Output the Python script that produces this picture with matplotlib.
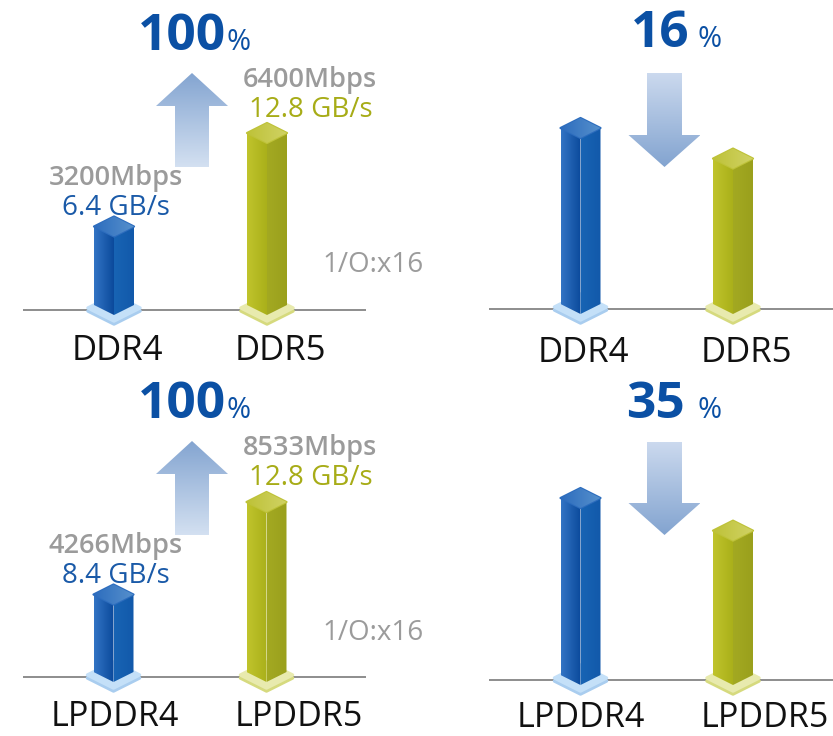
import numpy as np
import matplotlib
matplotlib.use("Agg")
import matplotlib.pyplot as plt
from matplotlib.patches import Polygon
from matplotlib.colors import to_rgb

# ---------------- data ----------------
categories_ddr = ["DDR4", "DDR5"]
categories_lp = ["LPDDR4", "LPDDR5"]
ddr_rate_mbps = [3200, 6400]
lpddr_rate_mbps = [4266, 8533]
ddr_bw_labels = ["6.4 GB/s", "12.8 GB/s"]
lpddr_bw_labels = ["8.4 GB/s", "12.8 GB/s"]
ddr_power_rel = [100, 84]      # relative bar heights as drawn
lpddr_power_rel = [100, 83]
bw_gain_labels = ["100", "100"]
power_cut_labels = ["16", "35"]
io_label = "1/O:x16"

W, H = 833, 736
fig = plt.figure(figsize=(W / 100, H / 100), dpi=100)
FONT = "Open Sans"

BLUE = dict(left=("#3274c4", "#0b4a9c"), right=("#1864b4", "#1259aa"),
            top=("#2d6dbe", "#5690cc"), plate_top="#c4e0f8", plate_edge="#a9cdef")
OLIVE = dict(left=("#c0c42c", "#aab01a"), right=("#a3a922", "#9aa01c"),
             top=("#bec238", "#d0d264"), plate_top="#e8eaae", plate_edge="#d6da7e")


def grad_fill(ax, verts, c0, c1, horizontal=True, zorder=2, upper=False):
    verts = np.asarray(verts)
    xmin, xmax = verts[:, 0].min(), verts[:, 0].max()
    ymin, ymax = verts[:, 1].min(), verts[:, 1].max()
    n = 64
    t = np.linspace(0, 1, n)[:, None]
    cols = (1 - t) * np.array(to_rgb(c0)) + t * np.array(to_rgb(c1))
    img = cols[None, :, :] if horizontal else cols[:, None, :]
    poly = Polygon(verts, closed=True, facecolor="none", edgecolor="none", zorder=zorder)
    ax.add_patch(poly)
    if upper:
        im = ax.imshow(img, extent=(xmin, xmax, ymax, ymin), origin="upper",
                       aspect="auto", zorder=zorder, interpolation="bilinear")
    else:
        im = ax.imshow(img, extent=(xmin, xmax, ymin, ymax), origin="lower",
                       aspect="auto", zorder=zorder, interpolation="bilinear")
    im.set_clip_path(poly)
    return im


def panel(rect, baseline, centers, max_px, values, style_list, vmax):
    x0, ytop, x1, ybot = rect
    ax = fig.add_axes([x0 / W, 1 - ybot / H, (x1 - x0) / W, (ybot - ytop) / H])
    dx = centers[1] - centers[0]
    s = max_px / vmax           # px per data unit
    xlim = ((x0 - centers[0]) / dx, (x1 - centers[0]) / dx)
    ylim = (-(ybot - baseline) / s, (baseline - ytop) / s)
    sx, sy = 1 / dx, 1 / s
    ax.axhline(0, color="#858585", lw=1.3, zorder=1)
    for i, (v, st) in enumerate(zip(values, style_list)):
        cx = i
        # base plate
        pc = 2 * sy
        pw, ph = 26 * sx, 13 * sy
        edge = [(cx - pw, pc - 3 * sy), (cx, pc - ph - 3 * sy), (cx + pw, pc - 3 * sy), (cx, pc + ph - 3 * sy)]
        ax.add_patch(Polygon(edge, closed=True, fc=st["plate_edge"], ec=st["plate_edge"],
                             lw=2.5, joinstyle="round", zorder=2))
        top_pl = [(cx - pw, pc), (cx, pc - ph), (cx + pw, pc), (cx, pc + ph)]
        ax.add_patch(Polygon(top_pl, closed=True, fc=st["plate_top"], ec=st["plate_top"],
                             lw=2.5, joinstyle="round", zorder=2))
        w = 20 * sx
        dh = 10 * sy
        left = [(cx - w, v - dh), (cx, v - 2 * dh), (cx, -5 * sy), (cx - w, 5 * sy)]
        right = [(cx, v - 2 * dh), (cx + w, v - dh), (cx + w, 5 * sy), (cx, -5 * sy)]
        top = [(cx, v), (cx + w, v - dh), (cx, v - 2 * dh), (cx - w, v - dh)]
        grad_fill(ax, left, st["left"][0], st["left"][1], zorder=3)
        grad_fill(ax, right, st["right"][0], st["right"][1], zorder=3)
        ax.add_patch(Polygon(top, closed=True, fc="none", ec=st["top"][0], lw=1.6,
                             joinstyle="round", zorder=3.5))
        grad_fill(ax, top, st["top"][0], st["top"][1], zorder=4)
    ax.set_xlim(*xlim)
    ax.set_ylim(*ylim)
    ax.axis("off")
    return ax


styles = [BLUE, OLIVE]
panel((23, 0, 366, 345), 310, (114, 267), 187, ddr_rate_mbps, styles, max(ddr_rate_mbps))
panel((489, 0, 833, 345), 309, (580.5, 733), 191, ddr_power_rel, styles, max(ddr_power_rel))
panel((23, 370, 366, 712), 677, (113.5, 266.5), 185, lpddr_rate_mbps, styles, max(lpddr_rate_mbps))
panel((489, 370, 833, 715), 680, (580.5, 733), 192, lpddr_power_rel, styles, max(lpddr_power_rel))

# ---------------- overlay (text & arrows) ----------------
ov = fig.add_axes([0, 0, 1, 1], zorder=10)
ov.set_xlim(0, W)
ov.set_ylim(H, 0)
ov.axis("off")

DBLUE = "#0b50a4"
MBLUE = "#1a5aa8"
GREY = "#9b9b9b"
OLIVE_T = "#a7ac17"


def txt(x, y, s, size, color, weight="normal", ha="center"):
    ov.text(x, y, s, fontsize=size, color=color, fontweight=weight, ha=ha,
            va="baseline", family=FONT)


def up_arrow(cx, ytip, yhead, ybot):
    hw, sw = 36, 17
    pts = [(cx, ytip), (cx + hw, yhead), (cx + sw, yhead), (cx + sw, ybot),
           (cx - sw, ybot), (cx - sw, yhead), (cx - hw, yhead)]
    grad_fill(ov, pts, "#84a5d1", "#d3e0f1", horizontal=False, zorder=5, upper=True)


def down_arrow(cx, ytop, yhead, ytip):
    hw, sw = 36, 17.5
    pts = [(cx - sw, ytop), (cx + sw, ytop), (cx + sw, yhead), (cx + hw, yhead),
           (cx, ytip), (cx - hw, yhead), (cx - sw, yhead)]
    grad_fill(ov, pts, "#cbd9ee", "#83a4d0", horizontal=False, zorder=5, upper=True)


for row, (cats, rates, bws, gain, cut, dy, lab_y, lab_y_r, lab_x, lab_x_r, lsize) in enumerate([
        (categories_ddr, ddr_rate_mbps, ddr_bw_labels, bw_gain_labels[0], power_cut_labels[0],
         0, 360, 362, (117.5, 280), (583.5, 746), 25),
        (categories_lp, lpddr_rate_mbps, lpddr_bw_labels, bw_gain_labels[1], power_cut_labels[1],
         368, 726, 727, (115, 299), (581, 765), 24.5)]):
    # left panel
    txt(226, 50 + dy, gain, 37, DBLUE, "bold", ha="right")
    txt(227, 50 + dy, "%", 21, DBLUE, ha="left")
    up_arrow(192, 73 + dy, 106 + dy, 167 + dy)
    txt(116, 185 + dy, f"{rates[0]}Mbps", 19.5, GREY, "semibold")
    txt(116, 215 + dy, bws[0], 20, MBLUE)
    txt(310, 87 + dy, f"{rates[1]}Mbps", 19.5, GREY, "semibold")
    txt(310.5, 117 + dy, bws[1], 20, OLIVE_T)
    txt(373, 272 + dy, io_label, 20, GREY)
    txt(lab_x[0], lab_y, cats[0], lsize, "#111111")
    txt(lab_x[1], lab_y, cats[1], lsize, "#111111")
    # right panel
    txt(690 - (5 if row else 0), 47 + dy + (3 if row else 0), cut, 37, DBLUE, "bold", ha="right")
    txt(698, 47 + dy + (3 if row else 0), "%", 21, DBLUE, ha="left")
    down_arrow(664.5, 73 + dy + (1 if row else 0), 135 + dy, 167 + dy)
    txt(lab_x_r[0], lab_y_r, cats[0], lsize, "#111111")
    txt(lab_x_r[1], lab_y_r, cats[1], lsize, "#111111")

fig.savefig("out.png", dpi=100)
